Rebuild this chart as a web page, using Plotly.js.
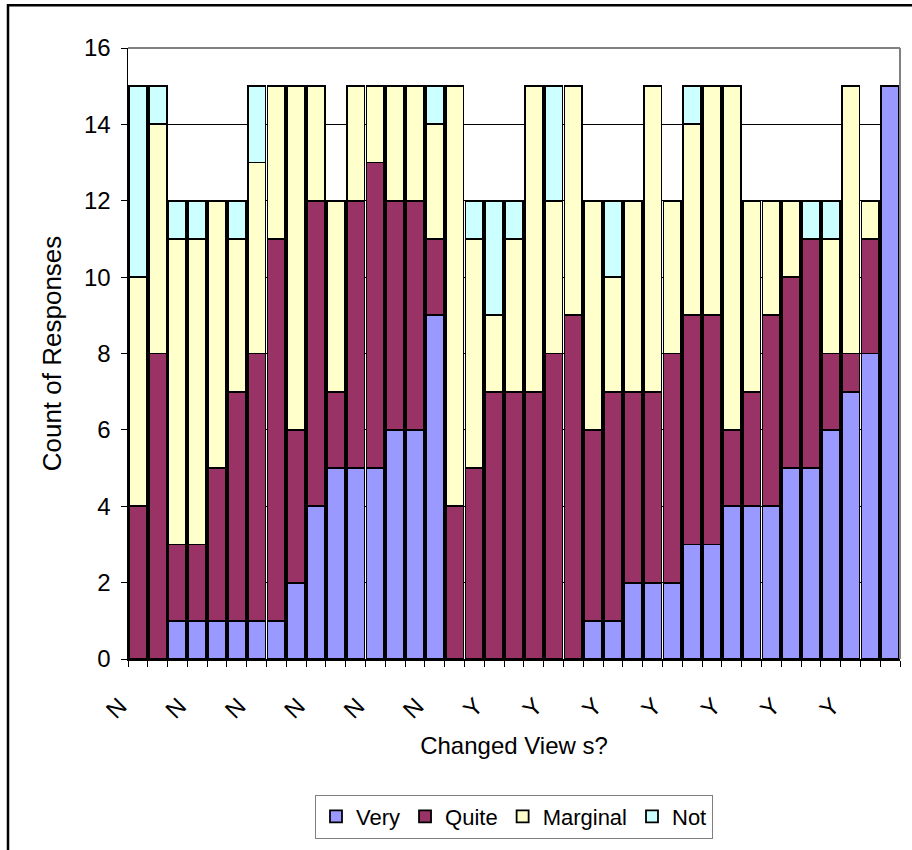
<!DOCTYPE html>
<html>
<head>
<meta charset="utf-8">
<script src="https://cdn.plot.ly/plotly-3.0.1.min.js"></script>
<style>
  html, body { margin: 0; padding: 0; background: #ffffff; }
  #chart { width: 912px; height: 850px; }
</style>
</head>
<body>
<div id="chart"></div>
<script>
// Category labels (one per bar)
const categories = ['N','N','N','N','N','N','N','N','N','N','N','N','N','N','N','N',
  'Y','Y','Y','Y','Y','Y','Y','Y','Y','Y','Y','Y','Y','Y','Y','Y','Y','Y','Y','Y','Y','Y','Y'];

// Series values
const very     = [0,0,1,1,1,1,1,1,2,4,5,5,5,6,6,9, 0,0,0,0,0,0,0,1,1,2,2,2,3,3,4,4,4,5,5,6,7,8,15];
const quite    = [4,8,2,2,4,6,7,10,4,8,2,7,8,6,6,2, 4,5,7,7,7,8,9,5,6,5,5,6,6,6,2,3,5,5,6,2,1,3,0];
const marginal = [6,6,8,8,7,4,5,4,9,3,5,3,2,3,3,3, 11,6,2,4,8,4,6,6,3,5,8,4,5,6,9,5,3,2,0,3,7,1,0];
const notAt    = [5,1,1,1,0,1,2,0,0,0,0,0,0,0,0,1, 0,1,3,1,0,3,0,0,2,0,0,0,1,0,0,0,0,0,1,1,0,0,0];

const seriesNames = ['Very','Quite','Marginal','Not'];
const seriesColors = ['#9999FF','#993366','#FFFFCC','#CCFFFF'];
const seriesData = [very, quite, marginal, notAt];

const xs = categories.map((_, i) => i + 1);
const tickIdx = xs.filter((_, i) => i % 3 === 0);
const tickText = tickIdx.map(v => categories[v - 1]);

const FONT = 'Liberation Sans, Arial, sans-serif';

const traces = seriesData.map((vals, k) => ({
  type: 'bar',
  name: seriesNames[k],
  x: xs,
  y: vals,
  marker: { color: seriesColors[k], line: { color: '#000000', width: 1.8 } },
  hoverinfo: 'name+y'
}));

// pixel helpers for frame in paper coords
const L = 128, R = 12, T = 48, B = 189, W = 912, H = 850;
const pw = W - L - R, ph = H - T - B;
const px = v => (v - L) / pw;
const py = v => (H - B - v) / ph;

const layout = {
  width: W, height: H,
  margin: { l: L, r: R, t: T, b: B, pad: 0 },
  barmode: 'stack',
  bargap: 0.1,
  paper_bgcolor: '#ffffff',
  plot_bgcolor: '#ffffff',
  font: { family: FONT, size: 22, color: '#000000' },
  showlegend: true,
  legend: {
    orientation: 'h',
    x: 0.5, xanchor: 'center',
    y: py(797), yanchor: 'top',
    bordercolor: '#808080', borderwidth: 1,
    bgcolor: '#ffffff',
    font: { family: FONT, size: 22, color: '#000000' },
    itemwidth: 30,
    traceorder: 'normal'
  },
  xaxis: {
    range: [0.5, xs.length + 0.5],
    tickmode: 'array',
    tickvals: tickIdx,
    ticktext: tickText,
    tickangle: -45,
    ticks: '',
    ticklabelstandoff: 22,
    ticklabelshift: -18,
    minor: { tickmode: 'linear', tick0: 0.5, dtick: 1, ticks: 'outside', ticklen: 6, tickcolor: '#000000', tickwidth: 1, showgrid: false },
    showgrid: false,
    zeroline: false,
    showline: true, linecolor: '#000000', linewidth: 1.5,
    tickfont: { family: FONT, size: 24, color: '#000000' },
    title: { text: 'Changed View s?', font: { family: FONT, size: 24, color: '#000000' }, standoff: 14 },
    fixedrange: true
  },
  yaxis: {
    range: [0, 16],
    tickmode: 'linear', tick0: 0, dtick: 2,
    ticks: 'outside', ticklen: 6, tickcolor: '#000000', tickwidth: 1,
    ticklabelstandoff: 5,
    showgrid: true, gridcolor: '#000000', gridwidth: 1,
    zeroline: false,
    showline: true, linecolor: '#000000', linewidth: 1.5,
    tickfont: { family: FONT, size: 24, color: '#000000' },
    title: { text: 'Count of Responses', font: { family: FONT, size: 26, color: '#000000' }, standoff: 15 },
    fixedrange: true
  },
  shapes: [
    // plot area grey top and right borders
    { type: 'line', xref: 'paper', yref: 'paper', x0: 0, x1: 1, y0: 1, y1: 1, line: { color: '#808080', width: 2 } },
    { type: 'line', xref: 'paper', yref: 'paper', x0: 1, x1: 1, y0: 0, y1: 1, line: { color: '#808080', width: 2 } },
    // outer chart frame (extends beyond right and bottom edges)
    { type: 'rect', xref: 'paper', yref: 'paper', x0: px(8), x1: px(930), y0: py(870), y1: py(5), line: { color: '#000000', width: 2.5 }, fillcolor: 'rgba(0,0,0,0)', layer: 'below' }
  ]
};

Plotly.newPlot('chart', traces, layout, { displayModeBar: false, staticPlot: true });
</script>
</body>
</html>
